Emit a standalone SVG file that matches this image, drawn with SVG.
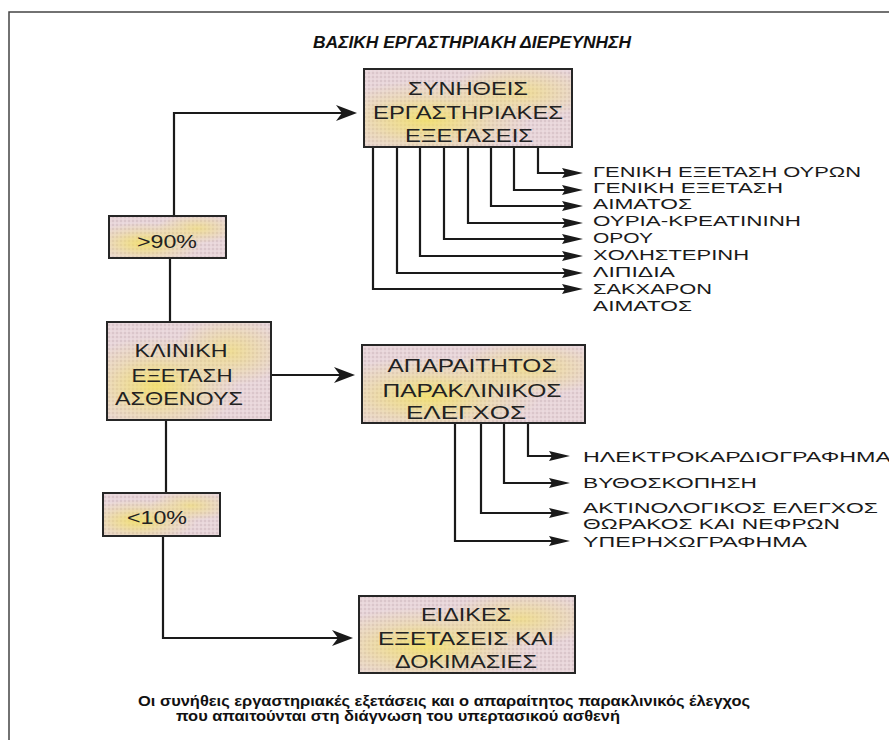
<svg xmlns="http://www.w3.org/2000/svg" width="889" height="740" viewBox="0 0 889 740">
<defs>
<pattern id="stip" width="4" height="4" patternUnits="userSpaceOnUse">
<rect width="4" height="4" fill="#e8d5d9"/>
<circle cx="1" cy="1" r="0.8" fill="#c9b4ba"/>
<circle cx="3" cy="3" r="0.6" fill="#f6eef0"/>
</pattern>
<radialGradient id="glow" cx="0.3" cy="0.65" r="0.5">
<stop offset="0" stop-color="#f4e25c" stop-opacity="0.8"/>
<stop offset="0.6" stop-color="#f4e25c" stop-opacity="0.25"/>
<stop offset="1" stop-color="#f4e25c" stop-opacity="0"/>
</radialGradient>
<radialGradient id="glow2" cx="0.75" cy="0.3" r="0.35">
<stop offset="0" stop-color="#f4e25c" stop-opacity="0.55"/>
<stop offset="1" stop-color="#f4e25c" stop-opacity="0"/>
</radialGradient>
<marker id="big" viewBox="-22 -9 23 18" markerWidth="23" markerHeight="18" refX="-5" refY="0" orient="auto" markerUnits="userSpaceOnUse">
<path d="M0,0 L-21,-8 L-15,0 L-21,8 Z" fill="#1a1a1a"/>
</marker>
<marker id="small" viewBox="-22 -7 23 14" markerWidth="23" markerHeight="14" refX="-5" refY="0" orient="auto" markerUnits="userSpaceOnUse">
<path d="M0,0 L-21,-5 L-18,0 L-21,5 Z" fill="#1a1a1a"/>
</marker>
</defs>
<style>
.box{stroke:#262626;stroke-width:2;}
.bt{font-family:"Liberation Sans","DejaVu Sans",sans-serif;font-size:19px;fill:#222;text-anchor:middle;}
.lb{font-family:"Liberation Sans","DejaVu Sans",sans-serif;font-size:15px;fill:#1a1a1a;}
.cap{font-family:"Liberation Sans","DejaVu Sans",sans-serif;font-size:14px;font-weight:bold;fill:#111;}
.ln{fill:none;stroke:#1a1a1a;stroke-width:2.2;}
.sm{marker-end:url(#small);}
.bg{marker-end:url(#big);}
</style>
<rect width="889" height="740" fill="#ffffff"/>
<path d="M9,740 V12 H889" fill="none" stroke="#444" stroke-width="1.5"/>
<text x="472" y="48" font-family="Liberation Sans, sans-serif" font-size="16" font-weight="bold" font-style="italic" fill="#111" text-anchor="middle" textLength="318" lengthAdjust="spacingAndGlyphs">ΒΑΣΙΚΗ ΕΡΓΑΣΤΗΡΙΑΚΗ ΔΙΕΡΕΥΝΗΣΗ</text>

<g id="connectors">
<polyline class="ln bg" points="174,216 174,113 352,113"/>
<polyline class="ln" points="170,258 170,322"/>
<polyline class="ln bg" points="271,375 350,375"/>
<polyline class="ln" points="166,420 166,493"/>
<polyline class="ln bg" points="163,536 163,638 348,638"/>
<polyline class="ln sm" points="538,147 538,173 578,173"/>
<polyline class="ln sm" points="514,147 514,190 578,190"/>
<polyline class="ln sm" points="491,147 491,206 578,206"/>
<polyline class="ln sm" points="468,147 468,223 578,223"/>
<polyline class="ln sm" points="444,147 444,239 578,239"/>
<polyline class="ln sm" points="420,147 420,256 578,256"/>
<polyline class="ln sm" points="397,147 397,273 578,273"/>
<polyline class="ln sm" points="373,147 373,289 578,289"/>
<polyline class="ln sm" points="528,423 528,456 565,456"/>
<polyline class="ln sm" points="504,423 504,483 565,483"/>
<polyline class="ln sm" points="481,423 481,513 565,513"/>
<polyline class="ln sm" points="455,423 455,541 565,541"/>
</g>

<g id="node-common">
<rect x="364" y="69" width="208" height="78" fill="url(#stip)"/>
<rect x="364" y="69" width="208" height="78" fill="url(#glow)"/>
<rect x="364" y="69" width="208" height="78" fill="url(#glow2)"/>
<rect class="box" x="364" y="69" width="208" height="78" fill="none"/>
<text class="bt" x="468" y="95" textLength="120" lengthAdjust="spacingAndGlyphs">ΣΥΝΗΘΕΙΣ</text>
<text class="bt" x="468" y="119" textLength="190" lengthAdjust="spacingAndGlyphs">ΕΡΓΑΣΤΗΡΙΑΚΕΣ</text>
<text class="bt" x="469" y="142" textLength="128" lengthAdjust="spacingAndGlyphs">ΕΞΕΤΑΣΕΙΣ</text>
</g>

<g id="node-gt90">
<rect x="109" y="216" width="117" height="42" fill="url(#stip)"/>
<rect x="109" y="216" width="117" height="42" fill="url(#glow)"/>
<rect x="109" y="216" width="117" height="42" fill="url(#glow2)"/>
<rect class="box" x="109" y="216" width="117" height="42" fill="none"/>
<text class="bt" x="167" y="248" textLength="60" lengthAdjust="spacingAndGlyphs">&gt;90%</text>
</g>

<g id="node-clinical">
<rect x="107" y="322" width="164" height="98" fill="url(#stip)"/>
<rect x="107" y="322" width="164" height="98" fill="url(#glow)"/>
<rect x="107" y="322" width="164" height="98" fill="url(#glow2)"/>
<rect class="box" x="107" y="322" width="164" height="98" fill="none"/>
<text class="bt" x="181" y="357" textLength="93" lengthAdjust="spacingAndGlyphs">ΚΛΙΝΙΚΗ</text>
<text class="bt" x="182" y="382" textLength="101" lengthAdjust="spacingAndGlyphs">ΕΞΕΤΑΣΗ</text>
<text class="bt" x="179" y="405" textLength="128" lengthAdjust="spacingAndGlyphs">ΑΣΘΕΝΟΥΣ</text>
</g>

<g id="node-paraclinical">
<rect x="362" y="345" width="223" height="78" fill="url(#stip)"/>
<rect x="362" y="345" width="223" height="78" fill="url(#glow)"/>
<rect x="362" y="345" width="223" height="78" fill="url(#glow2)"/>
<rect class="box" x="362" y="345" width="223" height="78" fill="none"/>
<text class="bt" x="472" y="372" textLength="169" lengthAdjust="spacingAndGlyphs">ΑΠΑΡΑΙΤΗΤΟΣ</text>
<text class="bt" x="472" y="397" textLength="179" lengthAdjust="spacingAndGlyphs">ΠΑΡΑΚΛΙΝΙΚΟΣ</text>
<text class="bt" x="466" y="419" textLength="120" lengthAdjust="spacingAndGlyphs">ΕΛΕΓΧΟΣ</text>
</g>

<g id="node-lt10">
<rect x="103" y="493" width="117" height="43" fill="url(#stip)"/>
<rect x="103" y="493" width="117" height="43" fill="url(#glow)"/>
<rect x="103" y="493" width="117" height="43" fill="url(#glow2)"/>
<rect class="box" x="103" y="493" width="117" height="43" fill="none"/>
<text class="bt" x="157" y="524" textLength="60" lengthAdjust="spacingAndGlyphs">&lt;10%</text>
</g>

<g id="node-special">
<rect x="359" y="596" width="216" height="77" fill="url(#stip)"/>
<rect x="359" y="596" width="216" height="77" fill="url(#glow)"/>
<rect x="359" y="596" width="216" height="77" fill="url(#glow2)"/>
<rect class="box" x="359" y="596" width="216" height="77" fill="none"/>
<text class="bt" x="466" y="621" textLength="90" lengthAdjust="spacingAndGlyphs">ΕΙΔΙΚΕΣ</text>
<text class="bt" x="466" y="645" textLength="176" lengthAdjust="spacingAndGlyphs">ΕΞΕΤΑΣΕΙΣ ΚΑΙ</text>
<text class="bt" x="466" y="668" textLength="142" lengthAdjust="spacingAndGlyphs">ΔΟΚΙΜΑΣΙΕΣ</text>
</g>

<g id="labels-common">
<text class="lb" x="593" y="177" textLength="268" lengthAdjust="spacingAndGlyphs">ΓΕΝΙΚΗ ΕΞΕΤΑΣΗ ΟΥΡΩΝ</text>
<text class="lb" x="593" y="193" textLength="190" lengthAdjust="spacingAndGlyphs">ΓΕΝΙΚΗ ΕΞΕΤΑΣΗ</text>
<text class="lb" x="593" y="209" textLength="99" lengthAdjust="spacingAndGlyphs">ΑΙΜΑΤΟΣ</text>
<text class="lb" x="593" y="226" textLength="208" lengthAdjust="spacingAndGlyphs">ΟΥΡΙΑ-ΚΡΕΑΤΙΝΙΝΗ</text>
<text class="lb" x="593" y="243" textLength="60" lengthAdjust="spacingAndGlyphs">ΟΡΟΥ</text>
<text class="lb" x="593" y="260" textLength="156" lengthAdjust="spacingAndGlyphs">ΧΟΛΗΣΤΕΡΙΝΗ</text>
<text class="lb" x="593" y="277" textLength="82" lengthAdjust="spacingAndGlyphs">ΛΙΠΙΔΙΑ</text>
<text class="lb" x="593" y="294" textLength="119" lengthAdjust="spacingAndGlyphs">ΣΑΚΧΑΡΟΝ</text>
<text class="lb" x="593" y="311" textLength="99" lengthAdjust="spacingAndGlyphs">ΑΙΜΑΤΟΣ</text>
</g>

<g id="labels-paraclinical">
<text class="lb" x="583" y="462" textLength="308" lengthAdjust="spacingAndGlyphs">ΗΛΕΚΤΡΟΚΑΡΔΙΟΓΡΑΦΗΜΑ</text>
<text class="lb" x="583" y="488" textLength="174" lengthAdjust="spacingAndGlyphs">ΒΥΘΟΣΚΟΠΗΣΗ</text>
<text class="lb" x="583" y="513" textLength="295" lengthAdjust="spacingAndGlyphs">ΑΚΤΙΝΟΛΟΓΙΚΟΣ ΕΛΕΓΧΟΣ</text>
<text class="lb" x="583" y="529" textLength="257" lengthAdjust="spacingAndGlyphs">ΘΩΡΑΚΟΣ ΚΑΙ ΝΕΦΡΩΝ</text>
<text class="lb" x="583" y="547" textLength="224" lengthAdjust="spacingAndGlyphs">ΥΠΕΡΗΧΩΓΡΑΦΗΜΑ</text>
</g>

<text class="cap" x="138" y="706" textLength="612" lengthAdjust="spacingAndGlyphs">Οι συνήθεις εργαστηριακές εξετάσεις και ο απαραίτητος παρακλινικός έλεγχος</text>
<text class="cap" x="176" y="721" textLength="444" lengthAdjust="spacingAndGlyphs">που απαιτούνται στη διάγνωση του υπερτασικού ασθενή</text>
</svg>
